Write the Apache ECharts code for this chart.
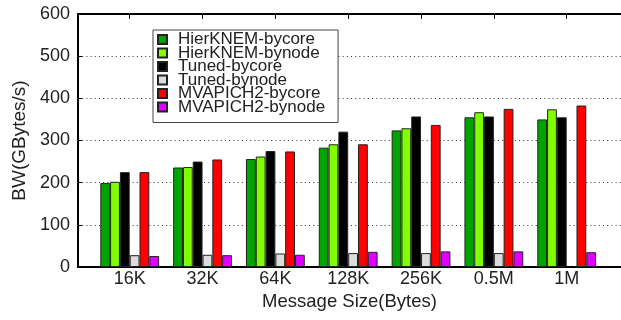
<!DOCTYPE html>
<html>
<head>
<meta charset="utf-8">
<script src="https://cdn.jsdelivr.net/npm/echarts@6/dist/echarts.min.js"></script>
<style>
  html, body { margin: 0; padding: 0; background: #fff; }
  #chart { width: 621px; height: 320px; }
</style>
</head>
<body>
<div id="chart"></div>
<script>
// Message sizes along the x axis
const sizes = ['16K', '32K', '64K', '128K', '256K', '0.5M', '1M'];

// Bandwidth in GBytes/s for each configuration
const hierknemBycore = [199, 236, 256, 283, 324, 355, 350];
const hierknemBynode = [202, 237, 262, 291, 329, 367, 374];
const tunedBycore    = [225, 250, 275, 321, 357, 357, 355];
const tunedBynode    = [28, 29, 32, 33, 33, 33, null];
const mvapichBycore  = [225, 255, 274, 291, 337, 375, 383];
const mvapichBynode  = [26, 28, 29, 36, 37, 37, 35];

const seriesDefs = [
  { name: 'HierKNEM-bycore', data: hierknemBycore, color: '#00a400' },
  { name: 'HierKNEM-bynode', data: hierknemBynode, color: '#80ff00' },
  { name: 'Tuned-bycore',    data: tunedBycore,    color: '#000000' },
  { name: 'Tuned-bynode',    data: tunedBynode,    color: '#dcdcdc' },
  { name: 'MVAPICH2-bycore', data: mvapichBycore,  color: '#ff0000' },
  { name: 'MVAPICH2-bynode', data: mvapichBynode,  color: '#e100ff' }
];

const positions = sizes.map((_, i) => i);
const font = 'Liberation Sans, Arial, sans-serif';

// x runs from a little left of the first group to past the right edge
const xMin = -0.71;
const xMax = -0.71 + 548 / 73.5;

const chart = echarts.init(document.getElementById('chart'), null, { renderer: 'canvas' });

chart.setOption({
  animation: false,
  backgroundColor: '#fff',
  grid: { left: 78, top: 14, width: 548, bottom: 53, containLabel: false },
  legend: {
    orient: 'vertical',
    left: 153,
    top: 30,
    icon: 'rect',
    itemWidth: 9,
    itemHeight: 9,
    itemGap: -3.5,
    padding: [1, 13, 7, 4],
    backgroundColor: '#fff',
    borderColor: '#444',
    borderWidth: 1,
    borderRadius: 0,
    textStyle: { fontFamily: font, fontSize: 17, color: '#222', padding: [0, 0, 0, 6] },
    data: seriesDefs.map(s => s.name)
  },
  xAxis: [
    {
      type: 'value',
      position: 'bottom',
      min: xMin,
      max: xMax,
      splitLine: { show: false },
      axisLine: { show: true, onZero: false, lineStyle: { color: '#000', width: 2 } },
      axisTick: { show: false },
      axisLabel: {
        customValues: positions,
        formatter: v => sizes[Math.round(v)] ?? '',
        fontFamily: font, fontSize: 18, color: '#222', margin: 3
      },
      name: 'Message Size(Bytes)',
      nameLocation: 'middle',
      nameGap: 25,
      nameTextStyle: { fontFamily: font, fontSize: 18.5, color: '#222' }
    },
    {
      type: 'value',
      position: 'top',
      min: xMin,
      max: xMax,
      splitLine: { show: false },
      axisLine: { show: true, onZero: false, lineStyle: { color: '#000', width: 2 } },
      axisTick: { show: true, inside: true, length: 5, customValues: positions, lineStyle: { color: '#000', width: 1 } },
      axisLabel: { show: false }
    }
  ],
  yAxis: {
    type: 'value',
    min: 0,
    max: 600,
    interval: 100,
    axisLine: { show: true, onZero: false, lineStyle: { color: '#000', width: 2 } },
    axisTick: { show: true, inside: true, length: 4, lineStyle: { color: '#000', width: 1 } },
    axisLabel: { fontFamily: font, fontSize: 18, color: '#222', margin: 8 },
    splitLine: { show: true, lineStyle: { color: '#333', width: 1, type: [1, 3.2] } },
    name: 'BW(GBytes/s)',
    nameLocation: 'middle',
    nameGap: 35,
    nameTextStyle: { fontFamily: font, fontSize: 19, color: '#222' }
  },
  series: seriesDefs.map(s => ({
    name: s.name,
    type: 'bar',
    xAxisIndex: 0,
    barWidth: 9.8,
    barGap: '0%',
    itemStyle: { color: s.color, borderColor: '#222', borderWidth: 1 },
    data: s.data.map((v, i) => [i, v])
  }))
});
</script>
</body>
</html>
